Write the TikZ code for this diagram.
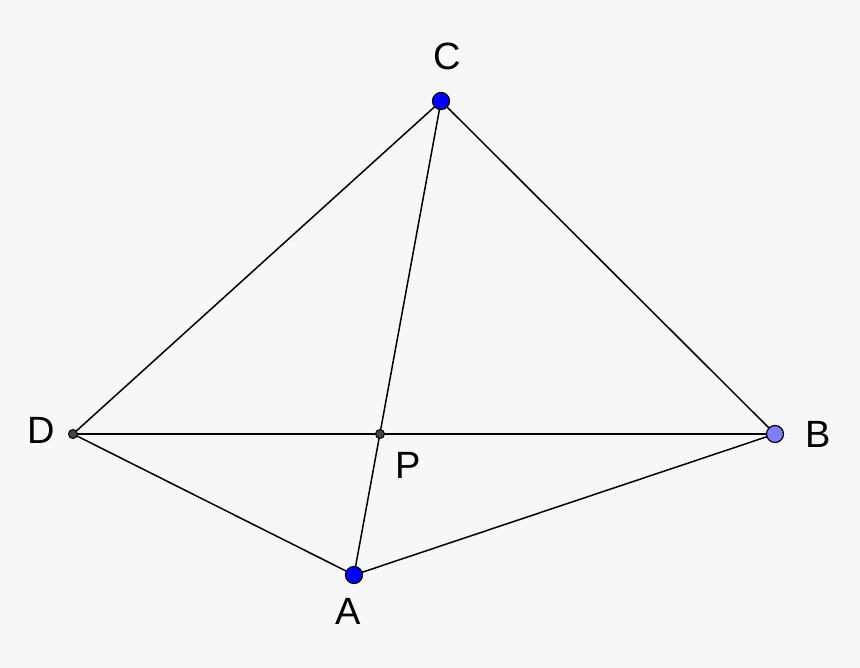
\documentclass[tikz,border=0pt]{standalone}
\usepackage{fontspec}
\setmainfont{Liberation Sans}
\definecolor{bg}{HTML}{F7F7F7}
\definecolor{ptblue}{HTML}{0000FF}
\definecolor{ptlight}{HTML}{7F7FFF}
\definecolor{ptgray}{HTML}{444444}
\begin{document}
\begin{tikzpicture}[x=1pt,y=-1pt,
  seg/.style={line width=1.5pt,black},
  bigpt/.style={circle,draw=black,line width=1.2pt,minimum size=17pt,inner sep=0pt},
  smallpt/.style={circle,draw=black,fill=ptgray,line width=1pt,minimum size=9pt,inner sep=0pt},
  lbl/.style={font=\fontsize{38}{38}\selectfont,inner sep=0pt}]
\fill[bg] (0,0) rectangle (860,668);
\useasboundingbox (0,0) rectangle (860,668);
\coordinate (C) at (441,101);
\coordinate (D) at (73,434);
\coordinate (P) at (380,434);
\coordinate (B) at (775,434);
\coordinate (A) at (354,575);
\draw[seg] (C) -- (D) -- (A) -- (B) -- (C) -- (A);
\draw[seg] (D) -- (B);
\node[bigpt,fill=ptblue] (nC) at (C) {};
\node[bigpt,fill=ptblue] (nA) at (A) {};
\node[bigpt,fill=ptlight] (nB) at (B) {};
\node[smallpt] (nD) at (D) {};
\node[smallpt] (nP) at (P) {};
\node[lbl] (lC) at (447,56) {C};
\node[lbl] (lD) at (41,430) {D};
\node[lbl] (lB) at (818,434) {B};
\node[lbl] (lP) at (408,465) {P};
\node[lbl] (lA) at (348,611) {A};
\end{tikzpicture}
\end{document}
